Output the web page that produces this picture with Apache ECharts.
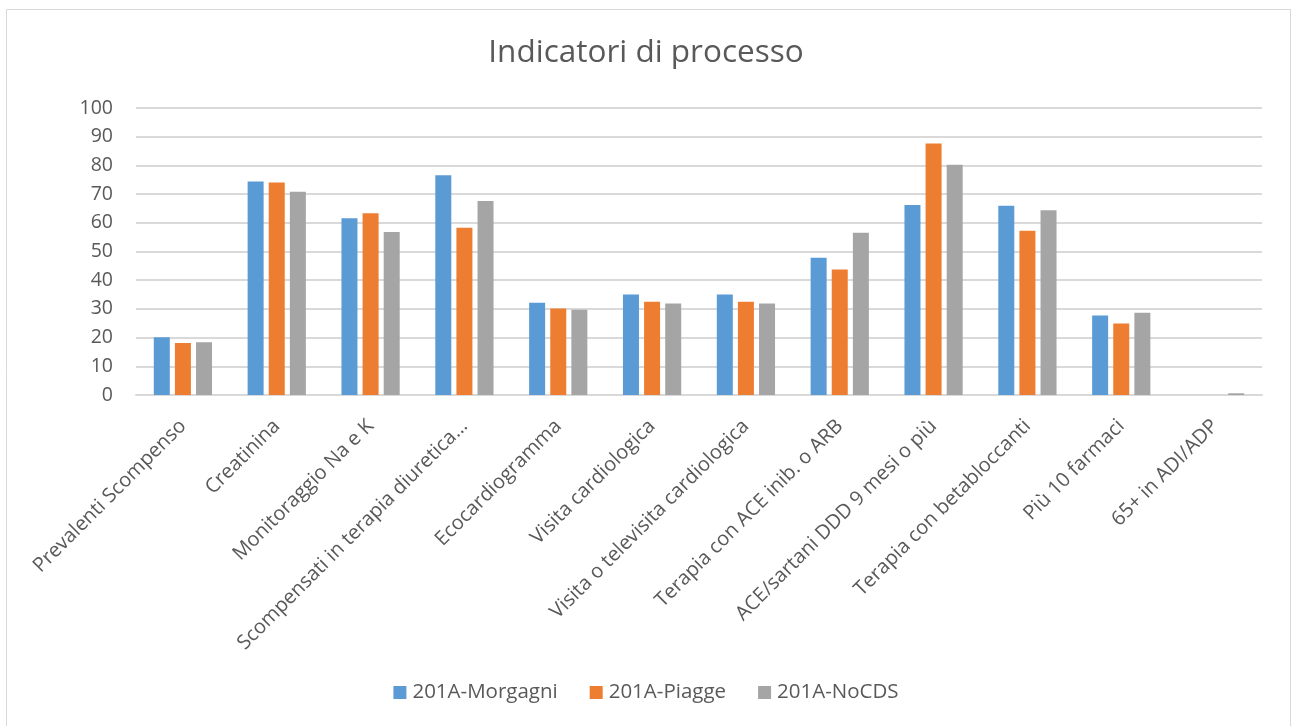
<!DOCTYPE html>
<html>
<head>
<meta charset="utf-8">
<script src="https://cdn.jsdelivr.net/npm/echarts@6/dist/echarts.min.js"></script>
<style>
  html, body { margin: 0; padding: 0; background: #fff; }
  #main { width: 1292px; height: 726px; }
</style>
</head>
<body>
<div id="main"></div>
<script>
const categories = [
  'Prevalenti Scompenso', 'Creatinina', 'Monitoraggio Na e K',
  'Scompensati in terapia diuretica…', 'Ecocardiogramma', 'Visita cardiologica',
  'Visita o televisita cardiologica', 'Terapia con ACE inib. o ARB',
  'ACE/sartani DDD 9 mesi o più', 'Terapia con betabloccanti',
  'Più 10 farmaci', '65+ in ADI/ADP'
];
const morgagni = [20.1, 74.4, 61.6, 76.6, 32.1, 35.0, 35.0, 47.8, 66.2, 65.9, 27.7, 0];
const piagge = [18.1, 74.0, 63.3, 58.3, 30.1, 32.5, 32.5, 43.7, 87.6, 57.2, 24.9, 0];
const noCDS = [18.4, 70.8, 56.8, 67.6, 29.7, 31.9, 31.9, 56.5, 80.2, 64.4, 28.7, 0.6];
const yTicks = [0, 10, 20, 30, 40, 50, 60, 70, 80, 90, 100];

var chartDom = document.getElementById('main');
var myChart = echarts.init(chartDom);

const textColor = '#595959';
const font = '"Open Sans", sans-serif';

function barSeries(name, data, color) {
  return {
    name: name,
    type: 'bar',
    data: data,
    barWidth: 16,
    barGap: '32%',
    itemStyle: { color: color },
    emphasis: { disabled: true }
  };
}

var option = {
  animation: false,
  textStyle: { fontFamily: font, color: textColor },
  graphic: [{
    type: 'rect',
    shape: { x: 6.5, y: 9.5, width: 1284, height: 740 },
    style: { fill: 'none', stroke: '#D9D9D9', lineWidth: 1 },
    silent: true
  }],
  title: {
    text: 'Indicatori di processo',
    left: 'center',
    top: 32,
    textStyle: { fontFamily: font, fontSize: 31.5, fontWeight: 'normal', color: textColor }
  },
  legend: {
    bottom: 18,
    left: 'center',
    itemWidth: 13,
    itemHeight: 13,
    itemGap: 32,
    icon: 'rect',
    textStyle: { fontFamily: font, fontSize: 20.5, color: textColor, padding: [0, 0, 0, 1] }
  },
  grid: { left: 136, right: 30, top: 108, bottom: 331, containLabel: false },
  xAxis: {
    type: 'category',
    data: categories,
    axisLine: { lineStyle: { color: '#D9D9D9', width: 2 } },
    axisTick: { show: false },
    axisLabel: {
      interval: 0,
      rotate: 45,
      margin: 28,
      fontFamily: font,
      fontSize: 20,
      color: textColor
    }
  },
  yAxis: {
    type: 'value',
    min: yTicks[0],
    max: yTicks[yTicks.length - 1],
    interval: 10,
    axisLine: { show: false },
    axisTick: { show: false },
    splitLine: { lineStyle: { color: '#D9D9D9', width: 2 } },
    axisLabel: { margin: 23, fontFamily: font, fontSize: 19.5, color: textColor }
  },
  series: [
    barSeries('201A-Morgagni', morgagni, '#5B9BD5'),
    barSeries('201A-Piagge', piagge, '#ED7D31'),
    barSeries('201A-NoCDS', noCDS, '#A5A5A5')
  ]
};

option && myChart.setOption(option);
</script>
</body>
</html>
